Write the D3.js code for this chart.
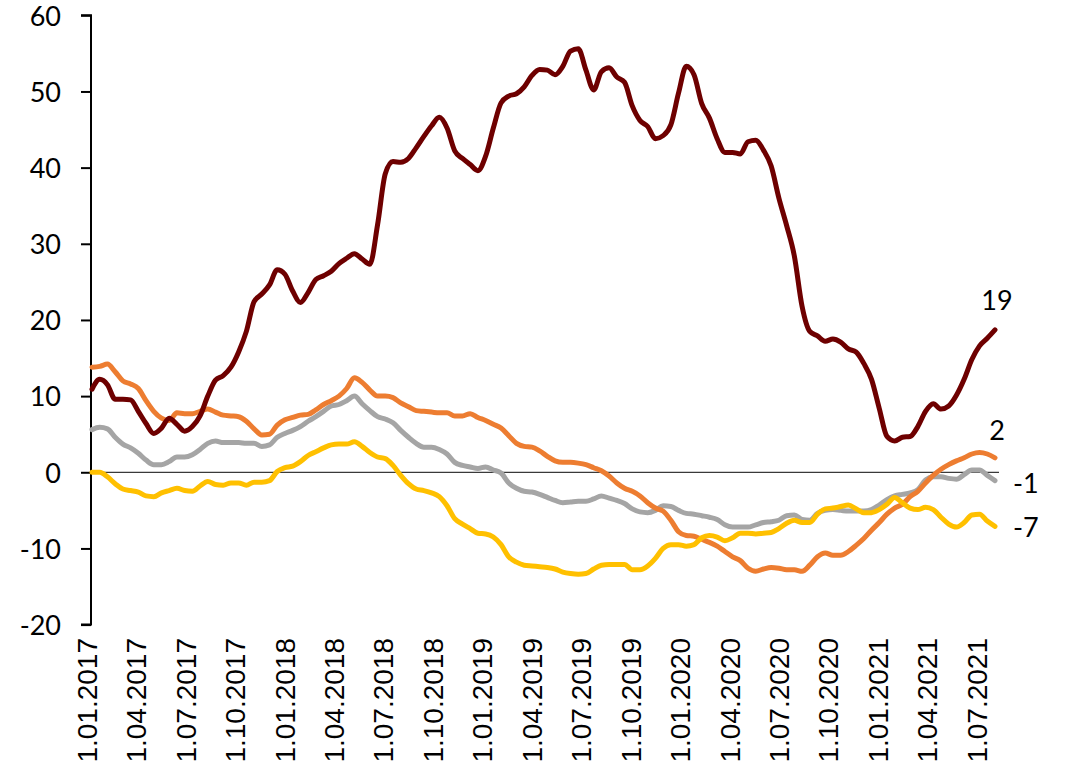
<!DOCTYPE html>
<html>
<head>
<meta charset="utf-8">
<script src="https://cdn.jsdelivr.net/npm/d3@7"></script>
<style>
  html, body { margin: 0; padding: 0; background: #ffffff; }
  svg { display: block; }
</style>
</head>
<body>
<svg id="chart" width="1071" height="771"></svg>
<script>
// Quarterly category labels along the bottom
const quarterLabels = [
  "1.01.2017", "1.04.2017", "1.07.2017", "1.10.2017",
  "1.01.2018", "1.04.2018", "1.07.2018", "1.10.2018",
  "1.01.2019", "1.04.2019", "1.07.2019", "1.10.2019",
  "1.01.2020", "1.04.2020", "1.07.2020", "1.10.2020",
  "1.01.2021", "1.04.2021", "1.07.2021"
];

// Y axis ticks
const yTicks = [-20, -10, 0, 10, 20, 30, 40, 50, 60];

// Fortnightly observations, January 2017 to mid 2021
const darkRedValues = [
  10.9, 12.2, 11.5, 9.6, 9.6, 9.5, 8.0, 6.4, 5.1, 5.8,
  7.1, 6.3, 5.4, 6.0, 7.4, 10.0, 12.1, 12.7, 13.8, 15.8,
  18.5, 22.4, 23.4, 24.6, 26.6, 26.0, 23.8, 22.3, 23.6, 25.3,
  25.8, 26.4, 27.4, 28.1, 28.7, 28.0, 27.3, 32.5, 39.2, 40.8,
  40.7, 41.2, 42.6, 44.1, 45.5, 46.6, 45.2, 42.2, 41.2, 40.4,
  39.6, 41.5, 45.2, 48.5, 49.4, 49.7, 50.6, 52.1, 52.9, 52.8,
  52.2, 53.3, 55.3, 55.6, 52.8, 50.2, 52.6, 53.1, 51.9, 51.2,
  48.1, 46.2, 45.4, 43.8, 44.2, 45.6, 49.8, 53.3, 52.2, 48.4,
  46.5, 43.8, 42.0, 42.0, 41.8, 43.4, 43.6, 42.3, 40.2, 36.0,
  32.4, 28.4, 21.8, 18.5, 17.9, 17.2, 17.5, 17.1, 16.2, 15.8,
  14.3, 12.2, 8.4, 4.7, 4.1, 4.6, 4.7, 6.0, 8.0, 9.0,
  8.3, 8.7, 10.1, 12.2, 14.8, 16.6, 17.6, 18.7
];

const orangeValues = [
  13.8, 13.9, 14.2, 13.2, 12.0, 11.6, 11.0, 9.4, 8.0, 7.1,
  6.8, 7.8, 7.7, 7.7, 8.0, 8.3, 7.9, 7.5, 7.4, 7.3,
  6.7, 5.7, 4.9, 5.0, 6.2, 6.9, 7.2, 7.5, 7.6, 8.2,
  8.9, 9.4, 10.0, 11.0, 12.4, 11.8, 10.8, 10.0, 10.0, 9.8,
  9.1, 8.6, 8.1, 8.0, 7.9, 7.8, 7.8, 7.4, 7.4, 7.7,
  7.2, 6.8, 6.3, 5.8, 4.8, 3.8, 3.4, 3.3, 2.8, 2.1,
  1.5, 1.3, 1.3, 1.2, 1.0, 0.6, 0.2, -0.5, -1.4, -2.1,
  -2.5, -3.1, -4.0, -4.7, -5.1, -6.3, -7.8, -8.3, -8.4, -8.8,
  -9.2, -9.7, -10.4, -11.1, -11.6, -12.6, -13.0, -12.7, -12.5, -12.6,
  -12.8, -12.8, -13.0, -12.2, -11.1, -10.6, -10.9, -10.9, -10.4, -9.6,
  -8.7, -7.6, -6.6, -5.5, -4.7, -4.2, -3.2, -2.5, -1.4, -0.4,
  0.4, 1.0, 1.5, 1.9, 2.4, 2.6, 2.4, 1.9
];

const greyValues = [
  5.6, 5.9, 5.7, 4.6, 3.7, 3.2, 2.5, 1.6, 1.0, 1.0,
  1.4, 2.0, 2.0, 2.3, 3.0, 3.8, 4.1, 3.9, 3.9, 3.9,
  3.8, 3.8, 3.4, 3.6, 4.6, 5.1, 5.5, 6.0, 6.7, 7.3,
  8.0, 8.7, 8.9, 9.4, 10.0, 9.0, 8.1, 7.3, 7.0, 6.5,
  5.5, 4.6, 3.8, 3.3, 3.3, 3.0, 2.4, 1.3, 0.9, 0.7,
  0.5, 0.7, 0.3, -0.1, -1.4, -2.1, -2.5, -2.6, -2.9, -3.3,
  -3.7, -4.0, -3.9, -3.8, -3.8, -3.5, -3.1, -3.4, -3.7, -4.1,
  -4.8, -5.2, -5.3, -5.0, -4.4, -4.5, -5.0, -5.4, -5.5, -5.7,
  -5.9, -6.2, -6.9, -7.2, -7.2, -7.2, -6.9, -6.6, -6.5, -6.3,
  -5.7, -5.6, -6.2, -6.3, -5.4, -5.0, -4.9, -5.0, -5.1, -5.1,
  -5.1, -4.9, -4.3, -3.6, -3.1, -2.9, -2.7, -2.3, -1.0, -0.6,
  -0.6, -0.8, -0.9, -0.3, 0.3, 0.3, -0.4, -1.1
];

const goldValues = [
  0.0, 0.0, -0.6, -1.5, -2.2, -2.4, -2.6, -3.1, -3.2, -2.7,
  -2.4, -2.1, -2.4, -2.5, -1.8, -1.2, -1.6, -1.7, -1.4, -1.4,
  -1.7, -1.3, -1.3, -1.1, 0.1, 0.6, 0.8, 1.4, 2.2, 2.7,
  3.2, 3.6, 3.7, 3.7, 4.0, 3.4, 2.6, 2.0, 1.8, 0.9,
  -0.4, -1.5, -2.2, -2.4, -2.7, -3.2, -4.4, -6.1, -6.8, -7.4,
  -8.0, -8.1, -8.5, -9.5, -11.1, -11.8, -12.2, -12.3, -12.4, -12.5,
  -12.7, -13.1, -13.3, -13.4, -13.3, -12.7, -12.2, -12.1, -12.1, -12.1,
  -12.8, -12.8, -12.3, -11.3, -10.0, -9.5, -9.5, -9.7, -9.5, -8.6,
  -8.3, -8.5, -9.0, -8.6, -8.0, -8.0, -8.1, -8.0, -7.9, -7.4,
  -6.7, -6.3, -6.6, -6.6, -5.5, -4.8, -4.7, -4.5, -4.3, -4.8,
  -5.3, -5.3, -4.9, -4.2, -3.3, -4.0, -4.7, -4.9, -4.6, -4.9,
  -5.9, -6.8, -7.2, -6.6, -5.6, -5.5, -6.4, -7.1
];

// Drawing order: grey, orange, gold, dark red on top
const series = [
  { values: greyValues,    color: "#a5a5a5", labelDx: 18,  labelDy: 12,  anchor: "start" },
  { values: orangeValues,  color: "#ed7d31", labelDx: 2,   labelDy: -18, anchor: "middle" },
  { values: goldValues,    color: "#ffc000", labelDx: 18,  labelDy: 11,  anchor: "start" },
  { values: darkRedValues, color: "#6e0000", labelDx: 2,   labelDy: -20, anchor: "middle" }
];

const svg = d3.select("#chart");

const plotLeft = 91, plotTop = 15.3, plotBottom = 624.6;
const n = darkRedValues.length;

const x = d3.scaleLinear().domain([0, n - 1]).range([92, 995]);
const y = d3.scaleLinear().domain([-20, 60]).range([plotBottom, plotTop]);
const xLabel = d3.scalePoint().domain(quarterLabels).range([87, 977]);

// Zero reference line
svg.append("line")
  .attr("x1", plotLeft).attr("x2", 999)
  .attr("y1", y(0)).attr("y2", y(0))
  .attr("stroke", "#3a3a3a").attr("stroke-width", 1.3);

// Y axis (plain hyphen for negative numbers)
const yAxis = d3.axisLeft(y).tickValues(yTicks).tickSize(10).tickPadding(20).tickFormat(d => String(d));
const gy = svg.append("g")
  .attr("transform", `translate(${plotLeft},0)`)
  .call(yAxis);
gy.select(".domain").attr("stroke", "#000").attr("stroke-width", 2).attr("d", `M-10,${plotTop}H0V${plotBottom}H-10`);
gy.selectAll(".tick line").attr("stroke", "#000").attr("stroke-width", 2);
gy.selectAll(".tick text")
  .attr("fill", "#000")
  .attr("font-family", "Lato, 'Open Sans', sans-serif")
  .attr("font-size", 27)
  .attr("dy", "0.36em");

// Rotated quarter labels
svg.append("g")
  .selectAll("text")
  .data(quarterLabels)
  .join("text")
  .attr("transform", d => `translate(${xLabel(d)},638) rotate(-90)`)
  .attr("text-anchor", "end")
  .attr("dy", "0.35em")
  .attr("font-family", "'Liberation Sans', Arial, sans-serif")
  .attr("font-size", 28)
  .attr("fill", "#000")
  .text(d => d);

// Series lines
const line = d3.line()
  .x((d, i) => x(i))
  .y(d => y(d))
  .curve(d3.curveMonotoneX);

svg.append("g")
  .selectAll("path")
  .data(series)
  .join("path")
  .attr("d", s => line(s.values))
  .attr("fill", "none")
  .attr("stroke", s => s.color)
  .attr("stroke-width", 5)
  .attr("stroke-linejoin", "round")
  .attr("stroke-linecap", "round");

// Last-value labels
svg.append("g")
  .selectAll("text")
  .data(series)
  .join("text")
  .attr("x", s => x(n - 1) + s.labelDx)
  .attr("y", s => y(s.values[n - 1]) + s.labelDy)
  .attr("text-anchor", s => s.anchor)
  .attr("font-family", "Lato, 'Open Sans', sans-serif")
  .attr("font-size", 27)
  .attr("fill", "#000")
  .text(s => String(Math.round(s.values[n - 1])));
</script>
</body>
</html>
